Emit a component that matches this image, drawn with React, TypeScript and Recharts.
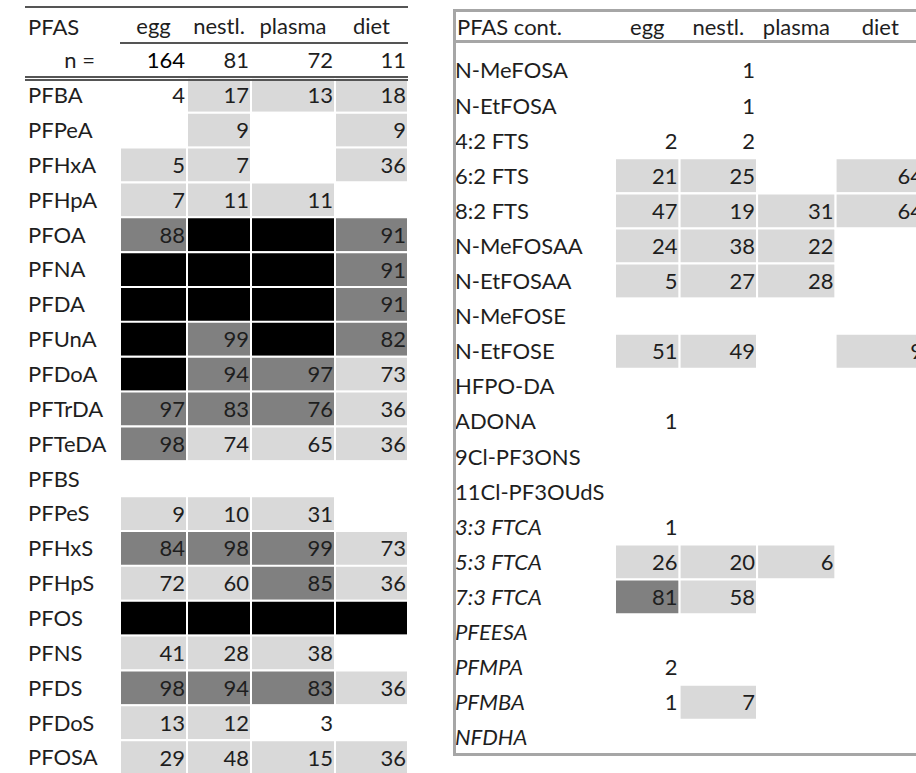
import React from 'react';
import { BarChart, Bar, XAxis, YAxis, Cell, LabelList } from 'recharts';

// detection frequency (%) per PFAS and matrix; null = not detected
const leftNames = ['n =', 'PFBA', 'PFPeA', 'PFHxA', 'PFHpA', 'PFOA', 'PFNA', 'PFDA', 'PFUnA', 'PFDoA', 'PFTrDA', 'PFTeDA',
  'PFBS', 'PFPeS', 'PFHxS', 'PFHpS', 'PFOS', 'PFNS', 'PFDS', 'PFDoS', 'PFOSA'];
const leftEgg = [164, 4, null, 5, 7, 88, 100, 100, 100, 100, 97, 98, null, 9, 84, 72, 100, 41, 98, 13, 29];
const leftNestl = [81, 17, 9, 7, 11, 100, 100, 100, 99, 94, 83, 74, null, 10, 98, 60, 100, 28, 94, 12, 48];
const leftPlasma = [72, 13, null, null, 11, 100, 100, 100, 100, 97, 76, 65, null, 31, 99, 85, 100, 38, 83, 3, 15];
const leftDiet = [11, 18, 9, 36, null, 91, 91, 91, 82, 73, 36, 36, null, null, 73, 36, 100, null, 36, null, 36];

const rightNames = ['N-MeFOSA', 'N-EtFOSA', '4:2 FTS', '6:2 FTS', '8:2 FTS', 'N-MeFOSAA', 'N-EtFOSAA', 'N-MeFOSE', 'N-EtFOSE',
  'HFPO-DA', 'ADONA', '9Cl-PF3ONS', '11Cl-PF3OUdS', '3:3 FTCA', '5:3 FTCA', '7:3 FTCA', 'PFEESA', 'PFMPA', 'PFMBA', 'NFDHA'];
const rightEgg = [null, null, 2, 21, 47, 24, 5, null, 51, null, 1, null, null, 1, 26, 81, null, 2, 1, null];
const rightNestl = [1, 1, 2, 25, 19, 38, 27, null, 49, null, null, null, null, null, 20, 58, null, null, 7, null];
const rightPlasma = [null, null, null, null, 31, 22, 28, null, null, null, null, null, null, null, 6, null, null, null, null, null];
const rightDiet = [null, null, null, 64, 64, null, null, null, 9, null, null, null, null, null, null, null, null, null, null, null];
const italicNames = ['3:3 FTCA', '5:3 FTCA', '7:3 FTCA', 'PFEESA', 'PFMPA', 'PFMBA', 'NFDHA'];

const COLS = ['egg', 'nestl', 'plasma', 'diet'];
const HEADERS = ['egg', 'nestl.', 'plasma', 'diet'];

const FONT = 'Lato, "Open Sans", sans-serif';
const FS = 22;
const INK = '#1e1e1e';

const shade = (v: number | null, header: boolean) => {
  if (header || v == null || v < 5) return '#ffffff';
  if (v >= 100) return '#000000';
  if (v >= 75) return '#808080';
  return '#d9d9d9';
};

const buildRows = (names: string[], cols: (number | null)[][]) =>
  names.map((name, i) => ({ name, egg: cols[0][i], nestl: cols[1][i], plasma: cols[2][i], diet: cols[3][i] }));

const leftRows = buildRows(leftNames, [leftEgg, leftNestl, leftPlasma, leftDiet]);
const rightRows = buildRows(rightNames, [rightEgg, rightNestl, rightPlasma, rightDiet]);

const centersOf = (w: number[]) => {
  let acc = 0;
  return w.map((x) => { const c = acc + x / 2; acc += x; return c; });
};

const NumLabel = (props: any) => {
  const { x, y, width, height, value } = props;
  if (value == null) return null;
  return (
    <text x={x + width - 2} y={y + height / 2} dy="0.36em" textAnchor="end" fill={value >= 100 ? '#000' : INK}
      fontFamily={FONT} fontSize={FS}>{value}</text>
  );
};

type TableProps = {
  rows: any[];
  widths: number[];
  chartW: number;
  chartH: number;
  margin: { top: number; right: number; bottom: number; left: number };
  axisH: number;
  labelW: number;
  headDy: number;
  labelX: number;
  axisLine: any;
};

const Table = ({ rows, widths, chartW, chartH, margin, axisH, labelW, headDy, labelX, axisLine }: TableProps) => {
  const total = widths.reduce((a, b) => a + b, 0);
  const centers = centersOf(widths);

  const headTick = (p: any) => {
    const i = centers.indexOf(p.payload.value);
    if (i < 0) return <g />;
    return <text x={p.x} y={p.y + headDy} textAnchor="middle" fill={INK} fontFamily={FONT} fontSize={FS}>{HEADERS[i]}</text>;
  };

  const rowTick = (p: any) => {
    const name = p.payload.value;
    const isN = name === 'n =';
    return (
      <text x={isN ? labelX + 67 : labelX} y={p.y} dy="0.36em" textAnchor={isN ? 'end' : 'start'} fill={INK}
        fontFamily={FONT} fontSize={FS} fontStyle={italicNames.includes(name) ? 'italic' : 'normal'}>{name}</text>
    );
  };

  return (
    <BarChart width={chartW} height={chartH} data={rows} layout="vertical" margin={margin}
      barCategoryGap={0} barGap={0}>
      <XAxis type="number" orientation="top" domain={[0, total]} ticks={centers} interval={0} height={axisH}
        tick={headTick} tickLine={false} axisLine={axisLine} allowDataOverflow />
      <YAxis type="category" dataKey="name" width={labelW} interval={0} tick={rowTick}
        tickLine={false} axisLine={false} />
      {COLS.map((c, ci) => (
        <Bar key={c} dataKey={() => widths[ci]} stackId="t" isAnimationActive={false}>
          {rows.map((r, ri) => (
            <Cell key={ri} fill={shade(r[c], r.name === 'n =')} stroke="#ffffff" strokeWidth={2} />
          ))}
          <LabelList dataKey={c} content={NumLabel} />
        </Bar>
      ))}
    </BarChart>
  );
};

const rule = (left: number, top: number, width: number, height: number, color: string): React.CSSProperties => ({
  position: 'absolute', left, top, width, height, background: color,
});

export default function App() {
  return (
    <div style={{ position: 'absolute', left: 0, top: 0, width: 916, height: 773, overflow: 'hidden', background: '#fff', fontFamily: FONT }}>
      <div style={{ position: 'absolute', left: 0, top: 0 }}>
        <Table rows={leftRows} widths={[67, 64, 84, 73]}
          chartW={420} chartH={790} margin={{ top: 8, right: 12, bottom: 15, left: 25 }} axisH={35} labelW={95}
          headDy={-1} labelX={28} axisLine={{ stroke: '#555', strokeWidth: 2 }} />
      </div>
      <div style={{ position: 'absolute', left: 440, top: 0 }}>
        <Table rows={rightRows} widths={[65, 78, 79, 90]}
          chartW={500} chartH={790} margin={{ top: 8, right: 15, bottom: 35, left: 13 }} axisH={45} labelW={162}
          headDy={-10} labelX={15} axisLine={false} />
      </div>
      {/* left table rules */}
      <div style={rule(25, 6, 383, 2, '#555')} />
      <div style={rule(25, 76, 383, 1.5, '#555')} />
      <div style={rule(25, 79, 383, 1.5, '#555')} />
      <div style={{ position: 'absolute', left: 28, top: 11, fontSize: FS, color: INK, lineHeight: '32px' }}>PFAS</div>
      {/* right table frame */}
      <div style={rule(453, 9, 470, 3, '#a6a6a6')} />
      <div style={rule(453, 9, 3, 747, '#a6a6a6')} />
      <div style={rule(453, 40, 470, 3, '#a6a6a6')} />
      <div style={rule(453, 753, 470, 3, '#a6a6a6')} />
      <div style={{ position: 'absolute', left: 457, top: 11, fontSize: FS, color: INK, lineHeight: '32px' }}>PFAS cont.</div>
    </div>
  );
}
